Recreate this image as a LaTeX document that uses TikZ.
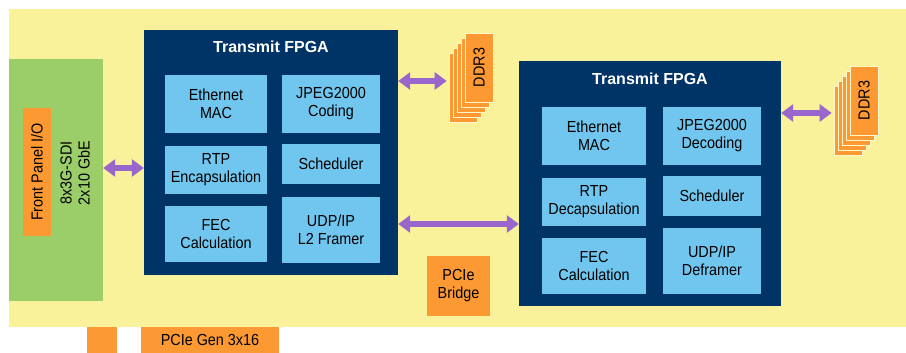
\documentclass[tikz,border=0pt]{standalone}
\usepackage{fontspec}
\setmainfont{Liberation Sans}
\newfontfamily\narrowsans[FakeStretch=0.9]{Liberation Sans}
\usepackage{tikz}
\usetikzlibrary{arrows.meta}
\usetikzlibrary{positioning}
\usepackage{color}
\definecolor{sand}{RGB}{250, 242, 154}
\definecolor{leaf}{RGB}{155, 205, 105}
\definecolor{tangerine}{RGB}{253, 153, 51}
\definecolor{midnight}{RGB}{0, 51, 102}
\definecolor{sky}{RGB}{112, 198, 238}
\definecolor{lavender}{RGB}{152, 102, 204}
\tikzset{
  lbl/.style     ={font=\narrowsans\fontsize{16}{18}\selectfont, align=center, inner sep=0pt},
  fpga/.style    ={fill=midnight, inner sep=0pt, minimum height=245pt},
  fpgatitle/.style={font=\bfseries\fontsize{16}{18}\selectfont, text=white, inner sep=0pt},
  block/.style   ={lbl, fill=sky},
  orangebox/.style={lbl, fill=tangerine},
  memlayer/.style={fill=tangerine, draw=sand!50!white, line width=0.8pt, minimum width=28pt, minimum height=69pt, inner sep=0pt},
  biarrow/.style ={draw=lavender, line width=6pt, arrows={Triangle[width=17pt,length=12pt]-Triangle[width=17pt,length=12pt]}}
}
\newcommand{\memstack}[3]{%
  \foreach \i in {4,3,2,1,0}{
    \node[memlayer] (#1\i) at (#2-4*\i, #3+5*\i) {};
  }
  \node[lbl, rotate=90] (#1txt) at (#10) {DDR3};
}

\begin{document}
\begin{tikzpicture}[x=1pt, y=-1pt]
            \useasboundingbox                                             (0, 0) rectangle (906, 353);
            \fill[sand]                                                   (9, 9) rectangle (906, 327);

            \node[fill=leaf, minimum width=94pt, minimum height=242pt, inner sep=0pt] (frontio) at (56, 180) {};
            \node[orangebox, minimum width=28pt, minimum height=128pt]   (panel)  at (37, 172) {};
            \node[lbl, rotate=90]                                        (paneltxt) at (37, 172) {Front Panel I/O};
            \node[lbl, rotate=90]                                        (iotxt)  at (75, 173) {8x3G-SDI\\2x10 GbE};

            \node[fpga, minimum width=254pt]                             (txfpga) at (271, 152.5) {};
            \node[fpgatitle]                                             (txtitle) at (271, 47) {Transmit FPGA};
            \node[block, minimum width=102pt, minimum height=58pt]       (txeth)  at (216, 104) {Ethernet\\MAC};
            \node[block, minimum width=98pt,  minimum height=58pt]       (txjpg)  at (331, 104) {JPEG2000\\Coding};
            \node[block, minimum width=102pt, minimum height=48pt]       (txrtp)  at (216, 170) {RTP\\Encapsulation};
            \node[block, minimum width=98pt,  minimum height=40pt]       (txsch)  at (331, 164) {Scheduler};
            \node[block, minimum width=102pt, minimum height=56pt]       (txfec)  at (216, 234) {FEC\\Calculation};
            \node[block, minimum width=98pt,  minimum height=66pt]       (txudp)  at (331, 230) {UDP/IP\\L2 Framer};

            \node[fpga, minimum width=262pt]                             (rxfpga) at (650, 183.5) {};
            \node[fpgatitle]                                             (rxtitle) at (650, 79) {Transmit FPGA};
            \node[block, minimum width=104pt, minimum height=58pt]       (rxeth)  at (594, 136) {Ethernet\\MAC};
            \node[block, minimum width=98pt,  minimum height=58pt]       (rxjpg)  at (712, 136) {JPEG2000\\Decoding};
            \node[block, minimum width=104pt, minimum height=48pt]       (rxrtp)  at (594, 202) {RTP\\Decapsulation};
            \node[block, minimum width=98pt,  minimum height=40pt]       (rxsch)  at (712, 196) {Scheduler};
            \node[block, minimum width=104pt, minimum height=56pt]       (rxfec)  at (594, 266) {FEC\\Calculation};
            \node[block, minimum width=98pt,  minimum height=66pt]       (rxudp)  at (712, 261) {UDP/IP\\Deframer};

            \memstack{ddra}{479}{67.5}
            \memstack{ddrb}{864}{100.5}

            \node[orangebox, minimum width=63pt, minimum height=60pt]    (bridge) at (458.5, 286) {PCIe\\Bridge};
            \node[orangebox, minimum width=30pt, minimum height=26pt]    (slot)   at (102, 340) {};
            \node[orangebox, minimum width=138pt, minimum height=26pt]   (pcie)   at (210, 340) {PCIe Gen 3x16};

            \draw[biarrow] (frontio.east |- 0, 168) -- (txfpga.west |- 0, 168);
            \draw[biarrow] (txfpga.east |- 0, 81)   -- ([xshift=-2pt]ddra4.west |- 0, 81);
            \draw[biarrow] (txfpga.east |- 0, 224)  -- (rxfpga.west |- 0, 224);
            \draw[biarrow] (rxfpga.east |- 0, 113)  -- ([xshift=-2pt]ddrb4.west |- 0, 113);
        \end{tikzpicture}
\end{document}
